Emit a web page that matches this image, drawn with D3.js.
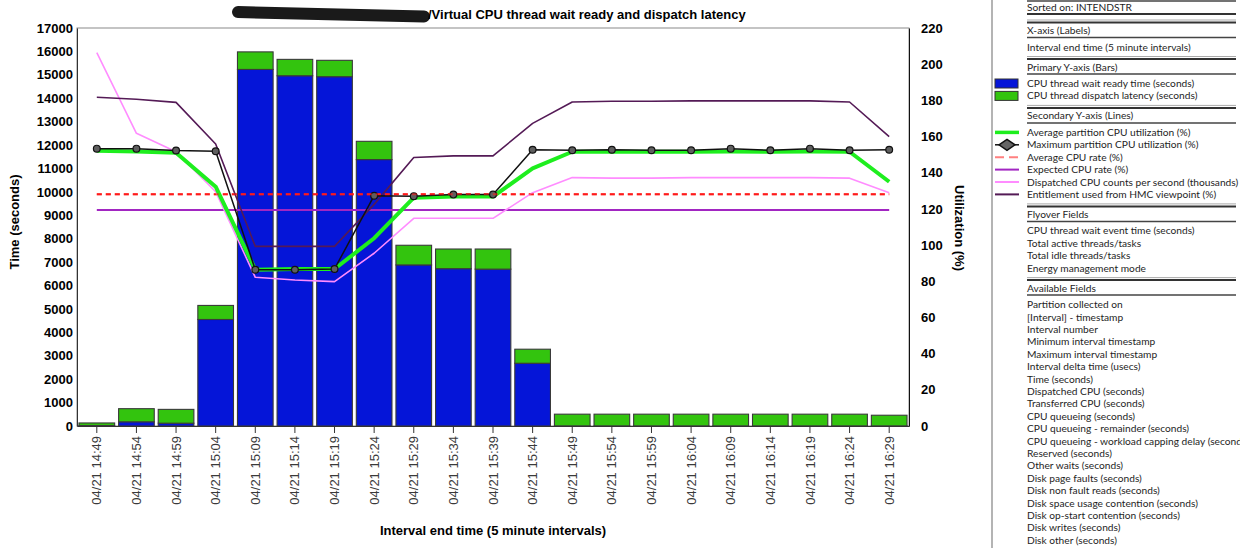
<!DOCTYPE html>
<html>
<head>
<meta charset="utf-8">
<script src="https://cdn.jsdelivr.net/npm/d3@7"></script>
<style>
  body { margin: 0; background: #fff; }
  svg { display: block; }
</style>
</head>
<body>
<svg width="1244" height="548"></svg>
<script>
// interval end labels (x axis)
const labels = ["04/21 14:49", "04/21 14:54", "04/21 14:59", "04/21 15:04", "04/21 15:09", "04/21 15:14",
  "04/21 15:19", "04/21 15:24", "04/21 15:29", "04/21 15:34", "04/21 15:39", "04/21 15:44",
  "04/21 15:49", "04/21 15:54", "04/21 15:59", "04/21 16:04", "04/21 16:09", "04/21 16:14",
  "04/21 16:19", "04/21 16:24", "04/21 16:29"];

// bars (seconds)
const waitReady = [20, 180, 120, 4550, 15230, 14960, 14920, 11380, 6880, 6720, 6700, 2680,
  5, 5, 5, 5, 5, 5, 5, 5, 5];
const dispatchLatency = [110, 560, 590, 600, 750, 700, 700, 780, 840, 840, 860, 600,
  500, 500, 500, 500, 500, 500, 500, 500, 455];

// lines (%)
const avgUtil = [152.2, 151.8, 151.1, 132.3, 86.4, 86.8, 86.8, 103.8, 126.2, 126.8, 126.8, 142.4,
  151.6, 151.6, 151.6, 151.6, 151.8, 151.6, 151.8, 151.6, 135];
const maxUtil = [153.3, 153.3, 152.3, 151.9, 86.4, 86.4, 86.8, 127.3, 127, 127.9, 127.9, 152.7,
  152.4, 152.7, 152.4, 152.4, 153.3, 152.4, 153.3, 152.4, 152.7];
const avgCpuRate = [128.1, 128.1, 128.1, 128.1, 128.1, 128.1, 128.1, 128.1, 128.1, 128.1, 128.1, 128.1,
  128.1, 128.1, 128.1, 128.1, 128.1, 128.1, 128.1, 128.1, 128.1];
const expectedRate = [119.4, 119.4, 119.4, 119.4, 119.4, 119.4, 119.4, 119.4, 119.4, 119.4, 119.4, 119.4,
  119.4, 119.4, 119.4, 119.4, 119.4, 119.4, 119.4, 119.4, 119.4];
const dispatchedCounts = [206.4, 161.8, 151.6, 129.5, 82.2, 80.7, 79.8, 95.5, 114.8, 114.8, 114.8, 129,
  137.3, 137, 137, 137.3, 137.3, 137.3, 137.3, 137, 129];
const entitlement = [181.7, 180.6, 178.9, 155.9, 99.3, 99.3, 99.3, 122.5, 148.4, 149.3, 149.3, 167.3,
  179.1, 179.5, 179.5, 179.7, 179.7, 179.7, 179.7, 179.1, 160];

// right panel
const sortedOn = "Sorted on: INTENDSTR";
const xAxisFields = ["Interval end time (5 minute intervals)"];
const barFields = ["CPU thread wait ready time (seconds)", "CPU thread dispatch latency (seconds)"];
const lineFields = ["Average partition CPU utilization (%)", "Maximum partition CPU utilization (%)",
  "Average CPU rate (%)", "Expected CPU rate (%)", "Dispatched CPU counts per second (thousands)",
  "Entitlement used from HMC viewpoint (%)"];
const flyoverFields = ["CPU thread wait event time (seconds)", "Total active threads/tasks",
  "Total idle threads/tasks", "Energy management mode"];
const availableFields = ["Partition collected on", "[Interval] - timestamp", "Interval number",
  "Minimum interval timestamp", "Maximum interval timestamp", "Interval delta time (usecs)",
  "Time (seconds)", "Dispatched CPU (seconds)", "Transferred CPU (seconds)", "CPU queueing (seconds)",
  "CPU queueing - remainder (seconds)", "CPU queueing - workload capping delay (seconds)",
  "Reserved (seconds)", "Other waits (seconds)", "Disk page faults (seconds)",
  "Disk non fault reads (seconds)", "Disk space usage contention (seconds)",
  "Disk op-start contention (seconds)", "Disk writes (seconds)", "Disk other (seconds)",
  "Journaling (seconds)"];

const blue = "#0515d8", green = "#33c40e";
const lineStyles = [
  { color: "#1eee1e", width: 4 },
  { color: "#111", width: 1.5 },
  { color: "#ff1a1a", width: 2, dash: "5,4" },
  { color: "#a226c2", width: 2 },
  { color: "#ff8cff", width: 1.6 },
  { color: "#541a56", width: 1.6 }
];

const svg = d3.select("svg");
const plotL = 77, plotR = 909, plotT = 28, plotB = 426;
const font = "'Liberation Sans', Arial, sans-serif";

let x = d3.scaleBand().domain(labels).range([plotL, plotR]).paddingInner(0.1).paddingOuter(0.05);
let yL = d3.scaleLinear().domain([0, 17000]).range([plotB, plotT]);
let yR = d3.scaleLinear().domain([0, 220]).range([plotB, plotT]);
let cx = d => x(d) + x.bandwidth() / 2;

// frame
svg.append("rect")
  .attr("x", plotL).attr("y", plotT)
  .attr("width", plotR - plotL).attr("height", plotB - plotT)
  .attr("fill", "none").attr("stroke", "#8a8a8a");

// stacked bars
let rows = labels.map((l, i) => ({ label: l, wait: waitReady[i], latency: dispatchLatency[i] }));
let stacked = d3.stack().keys(["wait", "latency"])(rows);
let barColors = { wait: blue, latency: green };

svg.append("g").selectAll("g")
  .data(stacked)
  .join("g")
  .attr("fill", s => barColors[s.key])
  .selectAll("rect")
  .data(s => s)
  .join("rect")
  .attr("x", d => x(d.data.label))
  .attr("y", d => yL(d[1]))
  .attr("width", x.bandwidth())
  .attr("height", d => yL(d[0]) - yL(d[1]))
  .attr("stroke", "#3a3a3a")
  .attr("stroke-width", 1.1);

// lines
let lineData = [avgCpuRate, expectedRate, dispatchedCounts, entitlement, avgUtil, maxUtil];
let lineStyleIdx = [2, 3, 4, 5, 0, 1];
let line = d3.line().x((v, i) => cx(labels[i])).y(v => yR(v));

lineData.forEach((vals, k) => {
  let st = lineStyles[lineStyleIdx[k]];
  svg.append("path")
    .datum(vals)
    .attr("d", line)
    .attr("fill", "none")
    .attr("stroke", st.color)
    .attr("stroke-width", st.width)
    .attr("stroke-dasharray", st.dash || null)
    .attr("stroke-linejoin", "round");
});

svg.append("g").selectAll("circle")
  .data(maxUtil)
  .join("circle")
  .attr("cx", (v, i) => cx(labels[i]))
  .attr("cy", v => yR(v))
  .attr("r", 3.4)
  .attr("fill", "#5e5e5e")
  .attr("stroke", "#111")
  .attr("stroke-width", 1.2);

// red dashes drawn over the markers too
svg.append("path")
  .datum(avgCpuRate)
  .attr("d", line)
  .attr("fill", "none")
  .attr("stroke", lineStyles[2].color)
  .attr("stroke-width", 2)
  .attr("stroke-dasharray", lineStyles[2].dash)
  .attr("opacity", 0.6);

// axes
let gl = svg.append("g")
  .attr("transform", `translate(${plotL},0)`)
  .call(d3.axisLeft(yL).ticks(17).tickSize(0).tickPadding(4).tickFormat(d3.format("d")));
gl.select(".domain").attr("stroke", "#333");

let gr = svg.append("g")
  .attr("transform", `translate(${plotR},0)`)
  .call(d3.axisRight(yR).ticks(11).tickSize(0).tickPadding(12));
gr.select(".domain").attr("stroke", "#111");

[gl, gr].forEach(g => g.selectAll("text")
  .attr("font-family", font).attr("font-size", "13px").attr("font-weight", "bold").attr("fill", "#000"));

let gb = svg.append("g")
  .attr("transform", `translate(0,${plotB})`)
  .call(d3.axisBottom(x).tickSize(7).tickSizeOuter(0));
gb.select(".domain").attr("stroke", "#333");
gb.selectAll("line").attr("stroke", "#333");
gb.selectAll("text")
  .attr("font-family", font)
  .attr("font-size", "13px")
  .attr("fill", "#3a3a3a")
  .attr("transform", "rotate(-90)")
  .attr("x", -10)
  .attr("y", 0)
  .attr("dy", "0.35em")
  .attr("text-anchor", "end");

// titles
svg.append("path")
  .attr("d", "M238,12 L424,16.5")
  .attr("stroke", "#1a1a1a")
  .attr("stroke-width", 12)
  .attr("stroke-linecap", "round");

svg.append("text")
  .attr("x", 428).attr("y", 19)
  .attr("font-family", font).attr("font-size", "13px").attr("font-weight", "bold")
  .attr("fill", "#000")
  .text("/Virtual CPU thread wait ready and dispatch latency");

svg.append("text")
  .attr("transform", "translate(19,222) rotate(-90)")
  .attr("text-anchor", "middle")
  .attr("font-family", font).attr("font-size", "13px").attr("font-weight", "bold")
  .text("Time (seconds)");

svg.append("text")
  .attr("transform", "translate(955,228) rotate(90)")
  .attr("text-anchor", "middle")
  .attr("font-family", font).attr("font-size", "13px").attr("font-weight", "bold")
  .text("Utilization (%)");

svg.append("text")
  .attr("x", 493).attr("y", 535)
  .attr("text-anchor", "middle")
  .attr("font-family", font).attr("font-size", "13px").attr("font-weight", "bold")
  .text("Interval end time (5 minute intervals)");

// right panel
const pfont = "Lato, 'Open Sans', sans-serif";
const px0 = 1027, px1 = 1236, step = 12.4;

svg.append("clipPath").attr("id", "panelClip")
  .append("rect").attr("x", 990).attr("y", 0).attr("width", 250).attr("height", 548);

let panel = svg.append("g");
let ptexts = svg.append("g").attr("clip-path", "url(#panelClip)");

panel.append("line")
  .attr("x1", 992).attr("x2", 992).attr("y1", 0).attr("y2", 548)
  .attr("stroke", "#b4b4b4").attr("stroke-width", 2);

let hline = (y, w, c) => panel.append("line")
  .attr("x1", px0).attr("x2", px1).attr("y1", y).attr("y2", y)
  .attr("stroke", c).attr("stroke-width", w);
let ptext = (y, t) => ptexts.append("text")
  .attr("x", px0).attr("y", y).attr("dy", "0.35em")
  .attr("font-family", pfont).attr("font-size", "10.2px").attr("fill", "#1e1e1e")
  .text(t);

hline(1, 1.5, "#444");
ptext(7, sortedOn);
hline(14, 2, "#333");

let y = 22.5;
let sections = [
  ["X-axis (Labels)", xAxisFields],
  ["Primary Y-axis (Bars)", barFields],
  ["Secondary Y-axis (Lines)", lineFields],
  ["Flyover Fields", flyoverFields],
  ["Available Fields", availableFields]
];
let itemY = {};
sections.forEach(([head, items]) => {
  hline(y - 2.5, 1, "#aaa");
  hline(y, 2, "#333");
  ptext(y + 8, head);
  hline(y + 15, 1.5, "#444");
  items.forEach((t, i) => {
    let yy = y + 24.5 + i * step;
    itemY[t] = yy;
    ptext(yy, t);
  });
  y = y + 24.5 + (items.length - 1) * step + 12;
});

// legend swatches
barFields.forEach((t, i) => {
  panel.append("rect")
    .attr("x", 995).attr("y", itemY[t] - 4.5)
    .attr("width", 23).attr("height", 9)
    .attr("fill", i === 0 ? blue : green)
    .attr("stroke", "#333");
});
lineFields.forEach((t, i) => {
  let st = lineStyles[i];
  let yy = itemY[t];
  panel.append("line")
    .attr("x1", 995).attr("x2", 1019).attr("y1", yy).attr("y2", yy)
    .attr("stroke", i === 2 ? "#ff8080" : st.color)
    .attr("stroke-width", i === 0 ? 3.5 : (i === 1 ? 1.5 : 2))
    .attr("stroke-dasharray", i === 2 ? "9,5" : null);
  if (i === 1) {
    panel.append("path")
      .attr("d", `M999,${yy} L1007,${yy - 5.5} L1015,${yy} L1007,${yy + 5.5} Z`)
      .attr("fill", "#666").attr("stroke", "#111").attr("stroke-width", 1.5);
  }
});
</script>
</body>
</html>
